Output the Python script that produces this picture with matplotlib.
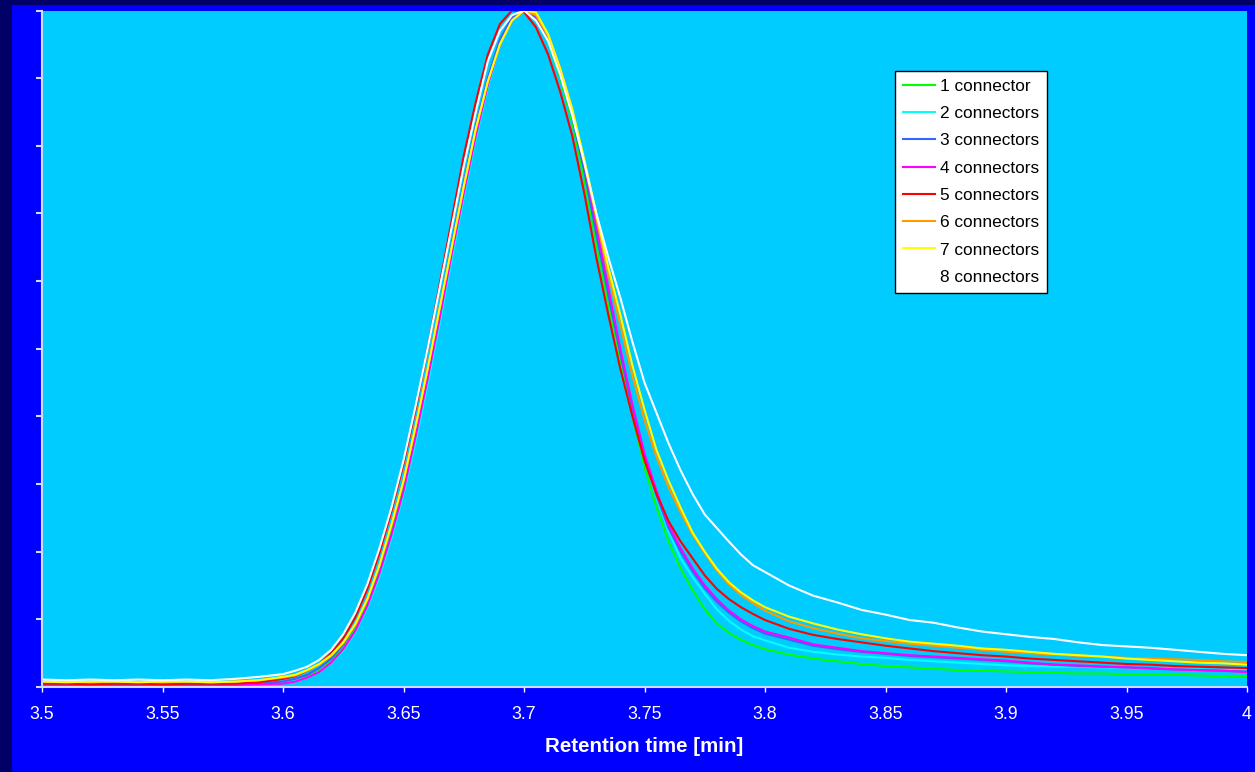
import numpy as np
import matplotlib
matplotlib.use("Agg")
import matplotlib.pyplot as plt
from matplotlib.patches import Rectangle

plt.rcParams['font.family'] = ['Liberation Sans', 'DejaVu Sans']

# sample times [min]: coarse on the baseline, fine across the peak
time = np.round(np.concatenate([np.arange(3.50, 3.595, 0.01),
                                np.arange(3.600, 3.8025, 0.005),
                                np.arange(3.81, 4.005, 0.01)]), 3)

# normalised detector signal for each number of connectors
conn_1 = [0.002, 0.003, 0.002, 0.002, 0.003, 0.002, 0.002, 0.003, 0.003, 0.004,
          0.006, 0.009, 0.015, 0.024, 0.038, 0.058, 0.086, 0.124, 0.172, 0.23,
          0.297, 0.375, 0.46, 0.55, 0.645, 0.735, 0.82, 0.895, 0.952, 0.988,
          1.0, 0.99, 0.955, 0.90, 0.835, 0.75, 0.655, 0.565, 0.48, 0.40,
          0.325, 0.265, 0.215, 0.175, 0.143, 0.115, 0.094, 0.08, 0.07, 0.062, 0.056,
          0.048, 0.042, 0.038, 0.034, 0.031, 0.029, 0.027, 0.025, 0.024, 0.023,
          0.022, 0.021, 0.02, 0.02, 0.019, 0.018, 0.018, 0.017, 0.016, 0.015]
conn_2 = [0.004, 0.004, 0.003, 0.004, 0.004, 0.003, 0.004, 0.004, 0.004, 0.005,
          0.006, 0.009, 0.014, 0.022, 0.035, 0.054, 0.081, 0.117, 0.163, 0.22,
          0.285, 0.362, 0.447, 0.537, 0.632, 0.724, 0.81, 0.886, 0.948, 0.986,
          1.0, 0.992, 0.962, 0.91, 0.848, 0.77, 0.68, 0.59, 0.50, 0.415,
          0.34, 0.28, 0.23, 0.19, 0.162, 0.138, 0.115, 0.098, 0.085, 0.075, 0.069,
          0.058, 0.052, 0.048, 0.045, 0.043, 0.04, 0.038, 0.036, 0.034, 0.032,
          0.031, 0.03, 0.03, 0.029, 0.028, 0.027, 0.027, 0.026, 0.025, 0.025]
conn_3 = [0.003, 0.003, 0.004, 0.003, 0.003, 0.004, 0.003, 0.003, 0.004, 0.005,
          0.008, 0.012, 0.018, 0.028, 0.042, 0.063, 0.092, 0.13, 0.18, 0.24,
          0.307, 0.385, 0.47, 0.56, 0.655, 0.745, 0.83, 0.9, 0.957, 0.99,
          1.0, 0.99, 0.958, 0.905, 0.843, 0.763, 0.67, 0.58, 0.492, 0.41,
          0.34, 0.283, 0.235, 0.2, 0.171, 0.146, 0.126, 0.11, 0.097, 0.087, 0.079,
          0.07, 0.061, 0.056, 0.052, 0.049, 0.046, 0.044, 0.042, 0.04, 0.038,
          0.035, 0.033, 0.031, 0.03, 0.029, 0.027, 0.026, 0.025, 0.024, 0.023]
conn_4 = [0.002, 0.002, 0.003, 0.002, 0.002, 0.003, 0.002, 0.002, 0.003, 0.004,
          0.005, 0.008, 0.014, 0.022, 0.036, 0.056, 0.083, 0.12, 0.168, 0.225,
          0.29, 0.37, 0.455, 0.545, 0.64, 0.73, 0.815, 0.89, 0.95, 0.985,
          1.0, 0.992, 0.963, 0.915, 0.853, 0.775, 0.682, 0.59, 0.50, 0.417,
          0.345, 0.29, 0.24, 0.205, 0.175, 0.15, 0.13, 0.113, 0.1, 0.09, 0.082,
          0.073, 0.063, 0.058, 0.053, 0.05, 0.047, 0.045, 0.043, 0.041, 0.039,
          0.036, 0.033, 0.032, 0.03, 0.029, 0.028, 0.026, 0.025, 0.024, 0.022]
conn_5 = [0.005, 0.005, 0.004, 0.005, 0.005, 0.004, 0.005, 0.005, 0.005, 0.007,
          0.012, 0.016, 0.024, 0.034, 0.05, 0.072, 0.103, 0.145, 0.198, 0.26,
          0.33, 0.41, 0.50, 0.595, 0.69, 0.785, 0.865, 0.935, 0.98, 1.0,
          0.998, 0.975, 0.935, 0.88, 0.815, 0.73, 0.635, 0.55, 0.47, 0.40,
          0.335, 0.285, 0.245, 0.215, 0.19, 0.165, 0.145, 0.13, 0.118, 0.108, 0.099,
          0.086, 0.077, 0.071, 0.066, 0.061, 0.057, 0.053, 0.05, 0.047, 0.045,
          0.042, 0.04, 0.038, 0.036, 0.034, 0.033, 0.031, 0.03, 0.029, 0.028]
conn_6 = [0.008, 0.008, 0.007, 0.008, 0.008, 0.007, 0.008, 0.007, 0.008, 0.01,
          0.014, 0.017, 0.024, 0.033, 0.046, 0.065, 0.092, 0.13, 0.18, 0.24,
          0.305, 0.385, 0.47, 0.56, 0.65, 0.74, 0.825, 0.895, 0.95, 0.985,
          1.0, 0.993, 0.962, 0.912, 0.85, 0.775, 0.693, 0.61, 0.535, 0.46,
          0.395, 0.34, 0.295, 0.258, 0.225, 0.198, 0.172, 0.152, 0.136, 0.124, 0.113,
          0.097, 0.087, 0.079, 0.072, 0.068, 0.064, 0.061, 0.058, 0.055, 0.052,
          0.05, 0.048, 0.046, 0.045, 0.043, 0.042, 0.041, 0.04, 0.038, 0.037]
conn_7 = [0.008, 0.007, 0.008, 0.008, 0.007, 0.008, 0.008, 0.007, 0.008, 0.01,
          0.015, 0.018, 0.025, 0.034, 0.047, 0.066, 0.093, 0.13, 0.18, 0.24,
          0.305, 0.385, 0.47, 0.56, 0.65, 0.74, 0.825, 0.895, 0.95, 0.985,
          1.0, 0.997, 0.965, 0.915, 0.855, 0.78, 0.70, 0.62, 0.55, 0.475,
          0.41, 0.35, 0.305, 0.265, 0.228, 0.2, 0.175, 0.155, 0.14, 0.128, 0.118,
          0.104, 0.094, 0.085, 0.078, 0.072, 0.067, 0.064, 0.061, 0.057, 0.055,
          0.052, 0.049, 0.047, 0.045, 0.042, 0.04, 0.038, 0.036, 0.035, 0.033]
conn_8 = [0.011, 0.01, 0.011, 0.01, 0.011, 0.01, 0.011, 0.01, 0.012, 0.015,
          0.019, 0.024, 0.03, 0.04, 0.055, 0.078, 0.11, 0.152, 0.205, 0.265,
          0.335, 0.415, 0.50, 0.59, 0.68, 0.77, 0.85, 0.925, 0.97, 0.993,
          1.0, 0.985, 0.955, 0.905, 0.845, 0.775, 0.70, 0.635, 0.575, 0.51,
          0.45, 0.405, 0.36, 0.32, 0.285, 0.255, 0.235, 0.215, 0.196, 0.18, 0.17,
          0.15, 0.135, 0.125, 0.114, 0.107, 0.099, 0.095, 0.088, 0.082, 0.078,
          0.074, 0.071, 0.066, 0.062, 0.06, 0.058, 0.055, 0.052, 0.049, 0.047]

series = [conn_1, conn_2, conn_3, conn_4, conn_5, conn_6, conn_7, conn_8]
labels = ['1 connector', '2 connectors', '3 connectors', '4 connectors',
          '5 connectors', '6 connectors', '7 connectors', '8 connectors']
colors = ['#00FF00', '#00FFFF', '#3366FF', '#FF00FF',
          '#FF0000', '#FF9900', '#FFFF00', '#FFFFFF']

W, H = 1255, 772
fig = plt.figure(figsize=(W / 100, H / 100), dpi=100, facecolor='#0000FF')
# dark strips on the left and top edge
fig.patches.append(Rectangle((0, 0), 12 / W, 1, transform=fig.transFigure,
                             facecolor='#000066', edgecolor='none', zorder=0))
fig.patches.append(Rectangle((0, 1 - 5 / H), 1, 5 / H, transform=fig.transFigure,
                             facecolor='#000066', edgecolor='none', zorder=0))

ax = fig.add_axes([42 / W, (H - 687) / H, (1247 - 42) / W, (687 - 10.5) / H])
ax.set_facecolor('#00CCFF')

for vals, lab, col in zip(series, labels, colors):
    ax.plot(time, vals, color=col, lw=1.5, label=lab)

ax.set_xlim(3.5, 4.0)
ax.set_ylim(0, 1)
ax.set_xticks([3.5, 3.55, 3.6, 3.65, 3.7, 3.75, 3.8, 3.85, 3.9, 3.95, 4.0])
ax.set_xticklabels(['3.5', '3.55', '3.6', '3.65', '3.7', '3.75', '3.8',
                    '3.85', '3.9', '3.95', '4'])
ax.set_yticks(np.linspace(0, 1, 11))
ax.set_yticklabels([])

for side in ['top', 'right']:
    ax.spines[side].set_visible(False)
for side in ['left', 'bottom']:
    ax.spines[side].set_color('#D0DAFF')
    ax.spines[side].set_linewidth(1.5)

ax.tick_params(axis='x', colors='white', length=3.5, width=1, pad=10, labelsize=12.8)
ax.tick_params(axis='y', colors='#D0DAFF', length=4.5, width=1.5)

ax.set_xlabel('Retention time [min]', color='white', fontsize=14.8,
              fontweight='bold', labelpad=10)

leg = ax.legend(loc='upper left', bbox_to_anchor=((895 - 42) / 1205, (687 - 71) / 676.5),
                borderaxespad=0, fontsize=12.4, frameon=True, fancybox=False,
                facecolor='white', edgecolor='black', framealpha=1,
                handlelength=1.9, handletextpad=0.25, labelspacing=0.71,
                borderpad=0.45)
leg.get_frame().set_linewidth(1)

fig.savefig('out.png', dpi=100, facecolor=fig.get_facecolor())
